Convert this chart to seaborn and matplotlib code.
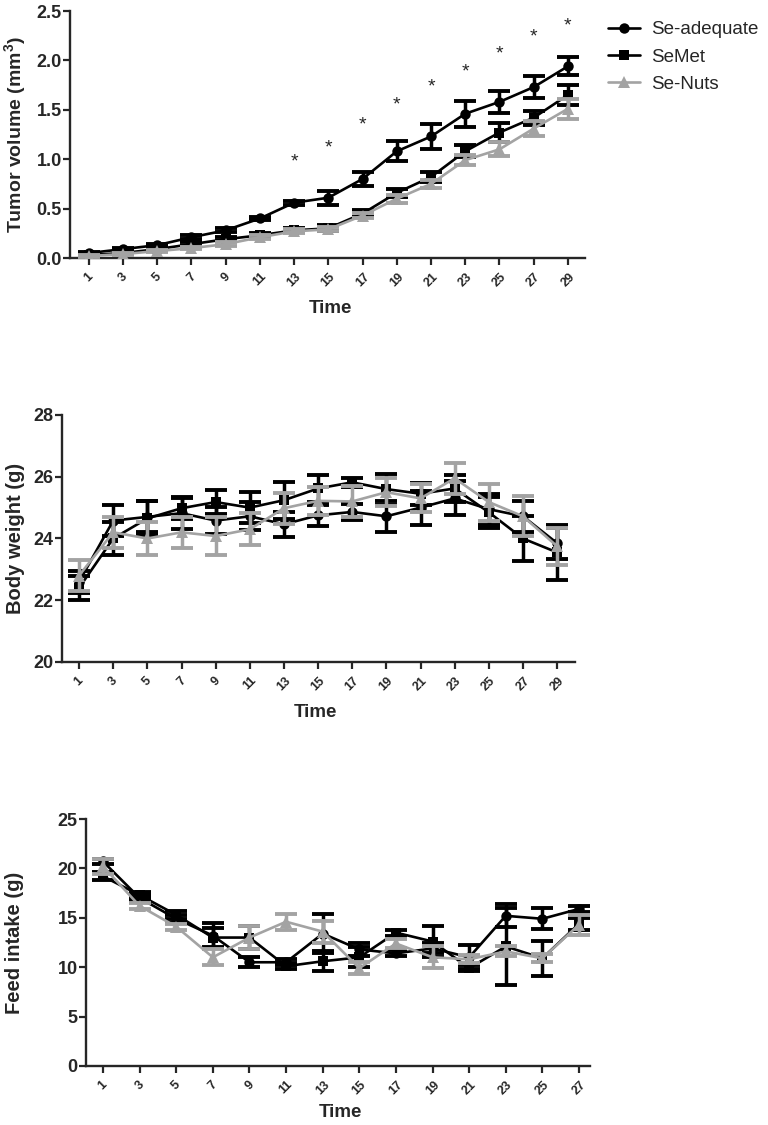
import numpy as np
import pandas as pd
import matplotlib
matplotlib.use("Agg")
import matplotlib.pyplot as plt
import seaborn as sns

sns.set_style("ticks")
plt.rcParams['font.family'] = ['Liberation Sans', 'DejaVu Sans']
plt.rcParams['mathtext.fontset'] = 'custom'
plt.rcParams['mathtext.rm'] = 'Liberation Sans'
plt.rcParams['mathtext.bf'] = 'Liberation Sans:bold'

groups = ['Se-adequate', 'SeMet', 'Se-Nuts']
colors = ['#000000', '#000000', '#a3a3a3']
markers = ['o', 's', '^']

# tumor volume (mm3), mean and SEM
days_tumor = [1, 3, 5, 7, 9, 11, 13, 15, 17, 19, 21, 23, 25, 27, 29]
tumor_adequate = [0.05, 0.09, 0.13, 0.21, 0.28, 0.40, 0.56, 0.61, 0.80, 1.08, 1.23, 1.46, 1.58, 1.73, 1.94]
tumor_adequate_err = [0.01, 0.01, 0.01, 0.02, 0.02, 0.02, 0.02, 0.07, 0.07, 0.10, 0.13, 0.13, 0.11, 0.11, 0.09]
tumor_semet = [0.03, 0.05, 0.09, 0.14, 0.19, 0.23, 0.28, 0.30, 0.45, 0.66, 0.82, 1.08, 1.27, 1.42, 1.65]
tumor_semet_err = [0.01, 0.01, 0.01, 0.02, 0.02, 0.02, 0.02, 0.03, 0.04, 0.04, 0.05, 0.06, 0.10, 0.07, 0.10]
tumor_nuts = [0.02, 0.04, 0.07, 0.10, 0.14, 0.21, 0.27, 0.29, 0.43, 0.60, 0.75, 0.99, 1.10, 1.31, 1.51]
tumor_nuts_err = [0.01, 0.01, 0.01, 0.01, 0.02, 0.02, 0.02, 0.02, 0.03, 0.04, 0.04, 0.05, 0.07, 0.08, 0.10]
star_days = [13, 15, 17, 19, 21, 23, 25, 27, 29]
star_heights = [0.97, 1.11, 1.35, 1.55, 1.73, 1.88, 2.07, 2.24, 2.35]

# body weight (g)
days_bw = [1, 3, 5, 7, 9, 11, 13, 15, 17, 19, 21, 23, 25, 27, 29]
bw_adequate = [22.6, 24.58, 24.7, 24.82, 24.58, 24.72, 24.46, 24.75, 24.86, 24.72, 25.0, 25.3, 24.95, 24.72, 23.85]
bw_adequate_err = [0.35, 0.5, 0.5, 0.5, 0.45, 0.45, 0.4, 0.35, 0.25, 0.5, 0.55, 0.55, 0.5, 0.5, 0.5]
bw_semet = [22.4, 24.0, 24.65, 24.98, 25.18, 25.0, 25.24, 25.62, 25.82, 25.6, 25.45, 25.62, 24.85, 24.0, 23.55]
bw_semet_err = [0.4, 0.55, 0.55, 0.35, 0.38, 0.5, 0.6, 0.45, 0.15, 0.5, 0.35, 0.45, 0.5, 0.72, 0.9]
bw_nuts = [22.8, 24.2, 24.0, 24.2, 24.08, 24.3, 24.98, 25.22, 25.2, 25.5, 25.3, 25.95, 25.18, 24.72, 23.75]
bw_nuts_err = [0.5, 0.5, 0.55, 0.5, 0.62, 0.52, 0.5, 0.45, 0.5, 0.45, 0.45, 0.5, 0.6, 0.65, 0.6]

# feed intake (g)
days_feed = [1, 3, 5, 7, 9, 11, 13, 15, 17, 19, 21, 23, 25, 27]
feed_adequate = [20.7, 17.0, 14.9, 13.2, 10.5, 10.5, 13.4, 11.8, 11.4, 11.9, 11.0, 15.2, 14.9, 15.9]
feed_adequate_err = [0.3, 0.3, 0.4, 1.3, 0.5, 0.3, 2.0, 0.7, 0.3, 0.5, 1.2, 1.15, 1.05, 0.3]
feed_semet = [19.2, 17.3, 15.3, 13.0, 13.0, 10.1, 10.6, 11.0, 13.5, 12.6, 9.9, 12.1, 10.9, 14.4]
feed_semet_err = [0.4, 0.3, 0.4, 1.0, 1.2, 0.3, 1.0, 1.0, 0.3, 1.6, 0.3, 3.9, 1.8, 0.6]
feed_nuts = [20.2, 16.2, 14.1, 11.0, 13.0, 14.6, 13.6, 9.9, 12.4, 11.0, 10.8, 11.6, 10.9, 14.3]
feed_nuts_err = [0.8, 0.3, 0.3, 0.8, 1.2, 0.8, 1.1, 0.6, 0.5, 1.1, 0.4, 0.5, 0.4, 1.0]


def draw_panel(ax, days, series, errs):
    for i, (name, vals, err) in enumerate(zip(groups, series, errs)):
        z = 3 + 2 * i
        ax.errorbar(days, vals, yerr=err, fmt='none', ecolor=colors[i],
                    elinewidth=2.5, capsize=8, capthick=2.8, zorder=z)
        sns.lineplot(x=days, y=vals, ax=ax, color=colors[i], marker=markers[i],
                     markersize=8.5 if markers[i] == '^' else 7.5, markeredgewidth=0,
                     linewidth=1.9, label=name, legend=False, zorder=z + 1)
    ax.set_xticks(days)
    ax.set_xticklabels([str(d) for d in days], rotation=45, ha='center',
                       fontsize=9, fontweight='bold')
    for lab in ax.get_yticklabels():
        lab.set_fontweight('bold')
        lab.set_fontsize(13)
    ax.tick_params(axis='both', width=1.6, length=5)
    ax.tick_params(axis='x', pad=4)
    ax.tick_params(axis='y', pad=1)
    for s in ['left', 'bottom']:
        ax.spines[s].set_linewidth(1.7)
    sns.despine(ax=ax)
    ax.set_xlabel('Time', fontsize=13.5, fontweight='bold')


fig = plt.figure(figsize=(7.68, 11.25), dpi=100)
ax1 = fig.add_axes([70 / 768, 1 - 258 / 1125, 515 / 768, 247 / 1125])
ax2 = fig.add_axes([62 / 768, 1 - 662 / 1125, 513 / 768, 247 / 1125])
ax3 = fig.add_axes([86 / 768, 1 - 1066 / 1125, 504 / 768, 247 / 1125])

# panel 1: tumor volume
ax1.set_ylim(0, 2.5)
ax1.set_yticks(np.arange(0, 2.51, 0.5))
ax1.set_yticklabels(['%.1f' % v for v in np.arange(0, 2.51, 0.5)])
draw_panel(ax1, days_tumor, [tumor_adequate, tumor_semet, tumor_nuts],
           [tumor_adequate_err, tumor_semet_err, tumor_nuts_err])
ax1.set_xlim(-0.1, 30)
ax1.set_ylim(0, 2.5)
for d, h in zip(star_days, star_heights):
    ax1.text(d, h, '*', ha='center', va='center', fontsize=14)
ax1.set_ylabel(r'Tumor volume (mm$^{\mathbf{3}}$)', fontsize=14, fontweight='bold')
ax1.yaxis.set_label_coords(-0.08, 0.5)
ax1.xaxis.set_label_coords(0.505, -0.17)

# panel 2: body weight
ax2.set_yticks([20, 22, 24, 26, 28])
ax2.set_yticklabels(['20', '22', '24', '26', '28'])
draw_panel(ax2, days_bw, [bw_adequate, bw_semet, bw_nuts],
           [bw_adequate_err, bw_semet_err, bw_nuts_err])
ax2.set_xlim(0, 30.05)
ax2.set_ylim(20, 28)
ax2.set_ylabel('Body weight (g)', fontsize=14.5, fontweight='bold')
ax2.yaxis.set_label_coords(-0.072, 0.5)
ax2.xaxis.set_label_coords(0.495, -0.172)

# panel 3: feed intake
ax3.set_yticks([0, 5, 10, 15, 20, 25])
ax3.set_yticklabels(['0', '5', '10', '15', '20', '25'])
draw_panel(ax3, days_feed, [feed_adequate, feed_semet, feed_nuts],
           [feed_adequate_err, feed_semet_err, feed_nuts_err])
ax3.set_xlim(0.07, 27.6)
ax3.set_ylim(0, 25)
ax3.set_ylabel('Feed intake (g)', fontsize=14.5, fontweight='bold')
ax3.yaxis.set_label_coords(-0.124, 0.5)
ax3.xaxis.set_label_coords(0.504, -0.155)

handles, labels = ax1.get_legend_handles_labels()
fig.legend(handles, labels, loc='upper left', bbox_to_anchor=(608 / 768, 1 - 21 / 1125),
           frameon=False, fontsize=13.5, handlelength=1.7, handletextpad=0.6,
           labelspacing=0.55, borderaxespad=0, borderpad=0)

fig.savefig('out.png', dpi=100)
